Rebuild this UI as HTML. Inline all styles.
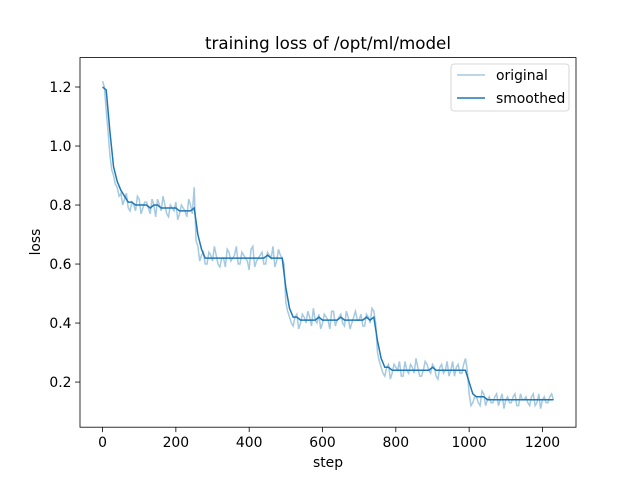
<!DOCTYPE html>
<html><head><meta charset="utf-8"><style>
body{margin:0;background:#fff}
svg text{font-family:"DejaVu Sans","Liberation Sans",sans-serif;fill:#000}
</style></head><body>
<svg id="chart" width="640" height="480">
<rect width="640" height="480" fill="#fff"/>
<text x="328" y="49" font-size="16.7" text-anchor="middle">training loss of /opt/ml/model</text>
<text x="328" y="467" font-size="13.9" text-anchor="middle">step</text>
<text x="0" y="0" font-size="13.9" text-anchor="middle" transform="translate(40,242) rotate(-90)">loss</text>
<g id="ticks"></g>
<g id="series"></g>
<rect x="80" y="57.6" width="496" height="369.6" fill="none" stroke="#000" stroke-width="0.8"/>
<g>
<rect x="451" y="64" width="118" height="47" rx="3" fill="#fff" fill-opacity="0.8" stroke="#ccc" stroke-width="0.8"/>
<g>
<line x1="457" y1="75" x2="485" y2="75" stroke="#1f77b4" stroke-opacity="0.4" stroke-width="1.5"/>
<text x="496" y="80" font-size="13.9">original</text></g>
<g>
<line x1="457" y1="98" x2="485" y2="98" stroke="#1f77b4" stroke-width="1.5"/>
<text x="496" y="103" font-size="13.9">smoothed</text></g>
</g>
</svg>
<script>
const xTicks=[0,200,400,600,800,1000,1200];
const yTicks=[0.2,0.4,0.6,0.8,1.0,1.2];
const yTickLabels=["0.2","0.4","0.6","0.8","1.0","1.2"];
const stepInterval=10;
const original=[1.22,1.12,0.97,0.90,0.86,0.84,0.82,0.79,0.81,0.78,0.82,0.79,0.81,0.77,0.80,0.82,0.78,0.80,0.76,0.79,0.81,0.77,0.79,0.76,0.80,0.86,
0.66,0.63,0.60,0.64,0.61,0.63,0.59,0.62,0.65,0.61,0.63,0.60,0.64,0.62,0.58,0.66,0.61,0.63,0.60,0.64,0.62,0.59,0.65,0.62,
0.47,0.42,0.39,0.43,0.40,0.42,0.44,0.39,0.41,0.43,0.40,0.42,0.38,0.44,0.41,0.43,0.39,0.42,0.40,0.44,0.41,0.39,0.43,0.40,0.44,
0.30,0.25,0.22,0.26,0.23,0.25,0.27,0.22,0.24,0.26,0.23,0.25,0.22,0.27,0.24,0.26,0.22,0.25,0.23,0.27,0.24,0.22,0.26,0.23,0.28,
0.16,0.13,0.15,0.12,0.16,0.14,0.13,0.15,0.12,0.16,0.14,0.13,0.15,0.12,0.16,0.14,0.13,0.15,0.12,0.16,0.14,0.13,0.15,0.14];
// values at half-steps (5, 15, 25, ...)
const originalMid=[1.20,1.05,0.92,0.87,0.83,0.80,0.84,0.78,0.80,0.83,0.77,0.81,0.79,0.82,0.76,0.80,0.83,0.77,0.80,0.78,0.75,0.80,0.78,0.82,0.77,
0.68,0.61,0.64,0.60,0.63,0.66,0.60,0.62,0.59,0.64,0.62,0.66,0.60,0.63,0.61,0.65,0.59,0.62,0.64,0.60,0.63,0.66,0.61,0.63,0.60,
0.44,0.40,0.42,0.38,0.43,0.40,0.42,0.45,0.40,0.38,0.43,0.41,0.44,0.39,0.42,0.40,0.44,0.38,0.42,0.41,0.43,0.39,0.42,0.45,0.40,
0.27,0.23,0.25,0.21,0.26,0.24,0.22,0.27,0.23,0.25,0.28,0.22,0.24,0.26,0.23,0.25,0.21,0.26,0.24,0.22,0.27,0.25,0.23,0.26,0.24,
0.12,0.15,0.13,0.17,0.12,0.15,0.13,0.16,0.14,0.11,0.15,0.13,0.16,0.12,0.14,0.15,0.12,0.16,0.13,0.11,0.15,0.13,0.16];
const smoothed=[1.20,1.19,1.05,0.93,0.88,0.85,0.83,0.81,0.81,0.80,0.80,0.80,0.80,0.79,0.80,0.80,0.79,0.79,0.79,0.79,0.79,0.78,0.78,0.78,0.78,0.79,
0.70,0.65,0.62,0.62,0.62,0.62,0.62,0.62,0.62,0.62,0.62,0.62,0.62,0.62,0.62,0.62,0.62,0.62,0.62,0.63,0.62,0.62,0.62,0.62,
0.52,0.45,0.42,0.42,0.41,0.41,0.41,0.41,0.41,0.42,0.41,0.41,0.41,0.41,0.41,0.42,0.41,0.41,0.41,0.41,0.41,0.41,0.42,0.41,0.42,
0.34,0.28,0.25,0.25,0.24,0.24,0.24,0.24,0.24,0.24,0.24,0.24,0.24,0.24,0.24,0.25,0.24,0.24,0.24,0.24,0.24,0.24,0.24,0.24,0.24,
0.20,0.16,0.15,0.15,0.15,0.14,0.14,0.14,0.14,0.14,0.14,0.14,0.14,0.14,0.14,0.14,0.14,0.14,0.14,0.14,0.14,0.14,0.14,0.14];
const NS="http://www.w3.org/2000/svg";
const X0=80,X1=576,Y0=57.6,Y1=427.2,xmin=-61.5,xmax=1291.5,ymin=0.047,ymax=1.2997;
function sx(v){return X0+(v-xmin)/(xmax-xmin)*(X1-X0);}
function sy(v){return Y1-(v-ymin)/(ymax-ymin)*(Y1-Y0);}
const tg=document.getElementById('ticks');
xTicks.forEach(t=>{
const l=document.createElementNS(NS,'line');
l.setAttribute('x1',sx(t));l.setAttribute('x2',sx(t));l.setAttribute('y1',Y1);l.setAttribute('y2',Y1+4.9);l.setAttribute('stroke','#000');l.setAttribute('stroke-width','0.8');


tg.appendChild(l);
const tx=document.createElementNS(NS,'text');
tx.setAttribute('x',sx(t));tx.setAttribute('y',Y1+20);tx.setAttribute('font-size','13.9');tx.setAttribute('text-anchor','middle');tx.textContent=t;


tg.appendChild(tx);
});
yTicks.forEach((t,i)=>{
const l=document.createElementNS(NS,'line');
l.setAttribute('x1',X0-4.9);l.setAttribute('x2',X0);l.setAttribute('y1',sy(t));l.setAttribute('y2',sy(t));l.setAttribute('stroke','#000');l.setAttribute('stroke-width','0.8');


tg.appendChild(l);
const tx=document.createElementNS(NS,'text');
tx.setAttribute('x',X0-8.5);tx.setAttribute('y',sy(t)+5);tx.setAttribute('font-size','13.9');tx.setAttribute('text-anchor','end');tx.textContent=yTickLabels[i];


tg.appendChild(tx);
});
const sg=document.getElementById('series');
const origPts=[];
original.forEach((v,i)=>{origPts.push([i*stepInterval,v]);if(i<originalMid.length)origPts.push([i*stepInterval+stepInterval/2,originalMid[i]]);});
function pathOfPts(pts){return pts.map((p,i)=>(i?'L':'M')+sx(p[0]).toFixed(2)+','+sy(p[1]).toFixed(2)).join('');}
const p1=document.createElementNS(NS,'path');
p1.setAttribute('d',pathOfPts(origPts));p1.setAttribute('fill','none');p1.setAttribute('stroke','#1f77b4');p1.setAttribute('stroke-opacity','0.4');p1.setAttribute('stroke-width','1.5');


sg.appendChild(p1);
const p2=document.createElementNS(NS,'path');
p2.setAttribute('d',pathOfPts(smoothed.map((v,i)=>[i*stepInterval,v])));p2.setAttribute('fill','none');p2.setAttribute('stroke','#1f77b4');p2.setAttribute('stroke-width','1.5');


sg.appendChild(p2);
</script>
</body></html>
